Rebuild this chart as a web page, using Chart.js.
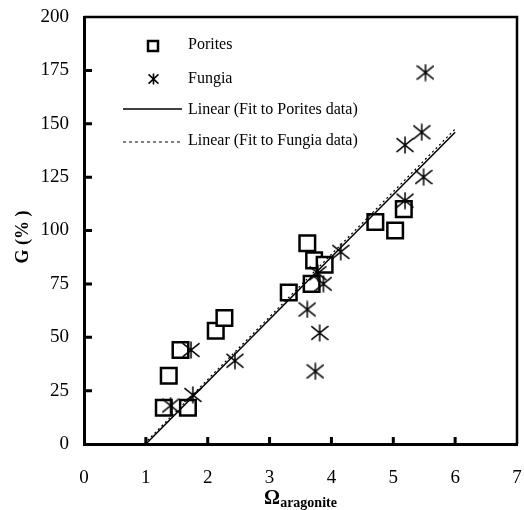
<!DOCTYPE html>
<html>
<head>
<meta charset="utf-8">
<script src="https://cdn.jsdelivr.net/npm/chart.js@4.4.0/dist/chart.umd.min.js"></script>
<style>
  html, body { margin: 0; padding: 0; background: #fff; overflow: hidden; }
  canvas { display: block; }
</style>
</head>
<body>
<canvas id="chart" width="524" height="510"></canvas>
<script>
// Porites (squares)
const poritesX = [1.37, 1.29, 1.68, 1.56, 2.13, 2.27, 3.31, 3.68, 3.61, 3.72, 3.89, 4.71, 5.03, 5.17];
const poritesG = [32, 17, 17, 44, 53, 59, 71, 75, 94, 86, 84, 104, 100, 110];
// Fungia (asterisks)
const fungiaX = [1.40, 1.76, 1.73, 2.44, 3.61, 3.81, 3.74, 3.87, 3.78, 4.15, 5.19, 5.49, 5.19, 5.46, 5.52];
const fungiaG = [18, 23, 44, 39, 63, 52, 34, 75, 80, 90, 114, 125, 140, 146, 174];
// linear fits
const poritesFitX = [1.0, 6.0];
const poritesFitG = [0, 146];
const fungiaFitX = [0.97, 6.0];
const fungiaFitG = [0, 147.5];

const xTicks = [0, 1, 2, 3, 4, 5, 6, 7];
const yTicks = [0, 25, 50, 75, 100, 125, 150, 175, 200];

const serif = '"Liberation Serif", "Times New Roman", serif';

function toPoints(xs, ys) {
  return xs.map((x, i) => ({ x: x, y: ys[i] }));
}

function makeAsterisk(w, h, lw) {
  const c = document.createElement('canvas');
  c.width = w;
  c.height = h;
  const g = c.getContext('2d');
  g.strokeStyle = '#000';
  g.lineWidth = lw;
  g.beginPath();
  g.moveTo(w / 2, 0.5);
  g.lineTo(w / 2, h - 0.5);
  g.moveTo(0.5, h * 0.12);
  g.lineTo(w - 0.5, h * 0.88);
  g.moveTo(0.5, h * 0.88);
  g.lineTo(w - 0.5, h * 0.12);
  g.stroke();
  return c;
}

const asterisk = makeAsterisk(18, 18, 1.5);
const smallAsterisk = makeAsterisk(11, 12, 1.6);

// frame, inward ticks, legend and axis titles
const decorations = {
  id: 'decorations',
  afterDraw(chart) {
    const ctx = chart.ctx;
    const a = chart.chartArea;
    const xs = chart.scales.x;
    const ys = chart.scales.y;
    ctx.save();
    ctx.strokeStyle = '#000';

    // top and right frame
    ctx.lineWidth = 2.5;
    ctx.beginPath();
    ctx.moveTo(a.left, a.top);
    ctx.lineTo(a.right, a.top);
    ctx.lineTo(a.right, a.bottom);
    ctx.stroke();

    // inward tick marks
    ctx.lineWidth = 3;
    ctx.beginPath();
    yTicks.slice(1, -1).forEach(v => {
      const py = ys.getPixelForValue(v);
      ctx.moveTo(a.left, py);
      ctx.lineTo(a.left + 8, py);
    });
    xTicks.slice(1, -1).forEach(v => {
      const px = xs.getPixelForValue(v);
      ctx.moveTo(px, a.bottom);
      ctx.lineTo(px, a.bottom - 7);
    });
    ctx.stroke();

    // legend
    ctx.fillStyle = '#000';
    ctx.font = '16px ' + serif;
    ctx.textBaseline = 'middle';
    ctx.textAlign = 'left';

    ctx.lineWidth = 2.5;
    ctx.strokeRect(148, 41, 10, 10);
    ctx.fillText('Porites', 188, 45);

    ctx.drawImage(smallAsterisk, 148, 73);
    ctx.fillText('Fungia', 188, 79);

    ctx.lineWidth = 1.5;
    ctx.beginPath();
    ctx.moveTo(123, 109);
    ctx.lineTo(182, 109);
    ctx.stroke();
    ctx.fillText('Linear (Fit to Porites data)', 188, 110);

    ctx.lineWidth = 1.2;
    ctx.setLineDash([3, 3]);
    ctx.beginPath();
    ctx.moveTo(123, 142);
    ctx.lineTo(182, 142);
    ctx.stroke();
    ctx.setLineDash([]);
    ctx.fillText('Linear (Fit to Fungia data)', 188, 141);

    // y title
    ctx.save();
    ctx.translate(23, 237);
    ctx.rotate(-Math.PI / 2);
    ctx.textAlign = 'center';
    ctx.font = 'bold 18px ' + serif;
    ctx.fillText('G (% )', 0, 0);
    ctx.restore();

    // x title with subscript
    ctx.textBaseline = 'alphabetic';
    ctx.font = 'bold 20px ' + serif;
    const omegaW = ctx.measureText('Ω').width;
    ctx.font = 'bold 14px ' + serif;
    const subW = ctx.measureText('aragonite').width;
    const startX = (a.left + a.right) / 2 - (omegaW + subW) / 2;
    ctx.font = 'bold 20px ' + serif;
    ctx.fillText('Ω', startX, 504);
    ctx.font = 'bold 14px ' + serif;
    ctx.fillText('aragonite', startX + omegaW, 507);

    ctx.restore();
  }
};

new Chart(document.getElementById('chart'), {
  type: 'scatter',
  data: {
    datasets: [
      {
        label: 'Porites',
        data: toPoints(poritesX, poritesG),
        pointStyle: 'rect',
        pointRadius: 11,
        pointHoverRadius: 11,
        pointBorderWidth: 2.5,
        borderColor: '#000',
        backgroundColor: '#fff',
        order: 4
      },
      {
        label: 'Linear (Fit to Porites data)',
        type: 'line',
        data: toPoints(poritesFitX, poritesFitG),
        borderColor: '#000',
        borderWidth: 1.5,
        pointRadius: 0,
        fill: false,
        order: 2
      },
      {
        label: 'Linear (Fit to Fungia data)',
        type: 'line',
        data: toPoints(fungiaFitX, fungiaFitG),
        borderColor: '#000',
        borderWidth: 1.2,
        borderDash: [2, 3],
        pointRadius: 0,
        fill: false,
        order: 3
      },
      {
        label: 'Fungia',
        data: toPoints(fungiaX, fungiaG),
        pointStyle: asterisk,
        order: 1
      }
    ]
  },
  options: {
    responsive: false,
    animation: false,
    devicePixelRatio: 1,
    layout: {
      autoPadding: false,
      padding: { top: 17, right: 7, left: 0, bottom: 0 }
    },
    plugins: {
      legend: { display: false },
      tooltip: { enabled: false }
    },
    scales: {
      x: {
        type: 'linear',
        min: 0,
        max: 7,
        afterFit: (scale) => {
          scale.height = 66;
          scale.paddingLeft = 0;
          scale.paddingRight = 0;
        },
        afterBuildTicks: (scale) => { scale.ticks = xTicks.map(v => ({ value: v })); },
        ticks: {
          color: '#000',
          padding: 0,
          font: { family: serif, size: 19 }
        },
        grid: { drawOnChartArea: false, drawTicks: true, tickLength: 23, tickColor: 'rgba(0,0,0,0)' },
        border: { color: '#000', width: 3 }
      },
      y: {
        min: 0,
        max: 200,
        afterFit: (scale) => {
          scale.width = 84;
          scale.paddingTop = 0;
          scale.paddingBottom = 0;
        },
        afterBuildTicks: (scale) => { scale.ticks = yTicks.map(v => ({ value: v })); },
        ticks: {
          color: '#000',
          padding: 0,
          font: { family: serif, size: 19 }
        },
        grid: { drawOnChartArea: false, drawTicks: true, tickLength: 15, tickColor: 'rgba(0,0,0,0)' },
        border: { color: '#000', width: 3 }
      }
    }
  },
  plugins: [decorations]
});
</script>
</body>
</html>
